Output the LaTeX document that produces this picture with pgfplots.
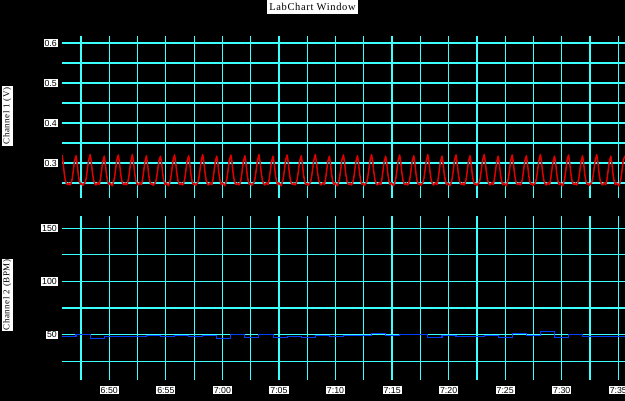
\documentclass[border=0pt]{standalone}
\usepackage{pgfplots}
\pgfplotsset{compat=1.18}
\usepackage{fontspec}
\setmainfont{Liberation Sans}
\newfontfamily\lcserif[LetterSpace=6]{Liberation Serif}
\definecolor{gridcyan}{RGB}{60,255,255}
\definecolor{sigred}{RGB}{225,0,0}
\definecolor{sigblue}{RGB}{0,64,255}
\pgfplotsset{
  lcbase/.style={
    scale only axis, width=563pt, xmin=405.82, xmax=455.59,
    axis line style={draw=none}, major tick length=0pt, minor tick length=0pt,
    grid=both,
    major grid style={gridcyan, line width=1.2pt},
    minor grid style={gridcyan, line width=1.2pt},
    xtick={410,415,420,425,430,435,440,445,450,455},
    minor xtick={407.5,412.5,417.5,422.5,427.5,432.5,437.5,442.5,447.5,452.5},
    /pgf/number format/assume math mode=true,
    tick label style={font=\fontsize{8.8}{9}\selectfont, fill=white, text=black, inner sep=1pt},
    yticklabel style={xshift=-4pt},
  }
}
\begin{document}
\begin{tikzpicture}
\fill[black] (0,0) rectangle (625pt,401pt);
\node[fill=white, text=black, font=\lcserif\fontsize{10.5}{12}\selectfont, inner xsep=2.5pt, minimum height=14pt] at (312.5pt,394pt) {LabChart Window};
\node[fill=white, text=black, rotate=90, font=\lcserif\fontsize{9}{10}\selectfont, inner sep=1.2pt] at (7.3pt,285pt) {Channel 1 (V)};
\node[fill=white, text=black, rotate=90, font=\lcserif\fontsize{9}{10}\selectfont, inner sep=1.2pt] at (7.3pt,106pt) {Channel 2 (BPM)};

\begin{axis}[lcbase, at={(62pt,203pt)}, anchor=south west, height=162pt,
  ymin=0.2125, ymax=0.6175,
  ytick={0.3,0.4,0.5,0.6}, minor ytick={0.25,0.35,0.45,0.55},
  yticklabel style={/pgf/number format/fixed, /pgf/number format/fixed zerofill, /pgf/number format/precision=1},
  xticklabels={}, xticklabel style={fill=none}]
\addplot[sigred, line width=1.5pt, line join=round] coordinates {
(405.82,0.320) (405.92,0.301) (406.02,0.274) (406.12,0.256) (406.22,0.248) (406.32,0.246) (406.42,0.250) (406.52,0.245) (406.62,0.249) (406.72,0.260) (406.82,0.281) (406.92,0.304)
(407.06,0.318) (407.16,0.298) (407.26,0.271) (407.36,0.254) (407.46,0.247) (407.56,0.249) (407.66,0.244) (407.76,0.248) (407.86,0.251) (407.96,0.262) (408.06,0.283) (408.16,0.305)
(408.31,0.321) (408.41,0.303) (408.51,0.276) (408.61,0.257) (408.71,0.249) (408.81,0.245) (408.91,0.248) (409.01,0.251) (409.11,0.246) (409.21,0.258) (409.31,0.279) (409.41,0.302)
(409.55,0.317) (409.65,0.299) (409.75,0.272) (409.85,0.255) (409.95,0.246) (410.05,0.250) (410.15,0.247) (410.25,0.243) (410.35,0.250) (410.45,0.261) (410.55,0.282) (410.65,0.306)
(410.80,0.320) (410.90,0.301) (411.00,0.274) (411.10,0.256) (411.20,0.248) (411.30,0.246) (411.40,0.250) (411.50,0.245) (411.60,0.249) (411.70,0.260) (411.80,0.281) (411.90,0.304)
(412.04,0.321) (412.14,0.303) (412.24,0.276) (412.34,0.257) (412.44,0.249) (412.54,0.245) (412.64,0.248) (412.74,0.251) (412.84,0.246) (412.94,0.258) (413.04,0.279) (413.14,0.302)
(413.28,0.318) (413.38,0.298) (413.48,0.271) (413.58,0.254) (413.68,0.247) (413.78,0.249) (413.88,0.244) (413.98,0.248) (414.08,0.251) (414.18,0.262) (414.28,0.283) (414.38,0.305)
(414.53,0.317) (414.63,0.299) (414.73,0.272) (414.83,0.255) (414.93,0.246) (415.03,0.250) (415.13,0.247) (415.23,0.243) (415.33,0.250) (415.43,0.261) (415.53,0.282) (415.63,0.306)
(415.77,0.320) (415.87,0.301) (415.97,0.274) (416.07,0.256) (416.17,0.248) (416.27,0.246) (416.37,0.250) (416.47,0.245) (416.57,0.249) (416.67,0.260) (416.77,0.281) (416.87,0.304)
(417.02,0.318) (417.12,0.298) (417.22,0.271) (417.32,0.254) (417.42,0.247) (417.52,0.249) (417.62,0.244) (417.72,0.248) (417.82,0.251) (417.92,0.262) (418.02,0.283) (418.12,0.305)
(418.26,0.321) (418.36,0.303) (418.46,0.276) (418.56,0.257) (418.66,0.249) (418.76,0.245) (418.86,0.248) (418.96,0.251) (419.06,0.246) (419.16,0.258) (419.26,0.279) (419.36,0.302)
(419.50,0.317) (419.60,0.299) (419.70,0.272) (419.80,0.255) (419.90,0.246) (420.00,0.250) (420.10,0.247) (420.20,0.243) (420.30,0.250) (420.40,0.261) (420.50,0.282) (420.60,0.306)
(420.75,0.320) (420.85,0.301) (420.95,0.274) (421.05,0.256) (421.15,0.248) (421.25,0.246) (421.35,0.250) (421.45,0.245) (421.55,0.249) (421.65,0.260) (421.75,0.281) (421.85,0.304)
(421.99,0.318) (422.09,0.298) (422.19,0.271) (422.29,0.254) (422.39,0.247) (422.49,0.249) (422.59,0.244) (422.69,0.248) (422.79,0.251) (422.89,0.262) (422.99,0.283) (423.09,0.305)
(423.23,0.321) (423.33,0.303) (423.43,0.276) (423.53,0.257) (423.63,0.249) (423.73,0.245) (423.83,0.248) (423.93,0.251) (424.03,0.246) (424.13,0.258) (424.23,0.279) (424.33,0.302)
(424.48,0.317) (424.58,0.299) (424.68,0.272) (424.78,0.255) (424.88,0.246) (424.98,0.250) (425.08,0.247) (425.18,0.243) (425.28,0.250) (425.38,0.261) (425.48,0.282) (425.58,0.306)
(425.72,0.320) (425.82,0.301) (425.92,0.274) (426.02,0.256) (426.12,0.248) (426.22,0.246) (426.32,0.250) (426.42,0.245) (426.52,0.249) (426.62,0.260) (426.72,0.281) (426.82,0.304)
(426.97,0.318) (427.07,0.298) (427.17,0.271) (427.27,0.254) (427.37,0.247) (427.47,0.249) (427.57,0.244) (427.67,0.248) (427.77,0.251) (427.87,0.262) (427.97,0.283) (428.07,0.305)
(428.21,0.321) (428.31,0.303) (428.41,0.276) (428.51,0.257) (428.61,0.249) (428.71,0.245) (428.81,0.248) (428.91,0.251) (429.01,0.246) (429.11,0.258) (429.21,0.279) (429.31,0.302)
(429.45,0.317) (429.55,0.299) (429.65,0.272) (429.75,0.255) (429.85,0.246) (429.95,0.250) (430.05,0.247) (430.15,0.243) (430.25,0.250) (430.35,0.261) (430.45,0.282) (430.55,0.306)
(430.70,0.320) (430.80,0.301) (430.90,0.274) (431.00,0.256) (431.10,0.248) (431.20,0.246) (431.30,0.250) (431.40,0.245) (431.50,0.249) (431.60,0.260) (431.70,0.281) (431.80,0.304)
(431.94,0.318) (432.04,0.298) (432.14,0.271) (432.24,0.254) (432.34,0.247) (432.44,0.249) (432.54,0.244) (432.64,0.248) (432.74,0.251) (432.84,0.262) (432.94,0.283) (433.04,0.305)
(433.19,0.321) (433.29,0.303) (433.39,0.276) (433.49,0.257) (433.59,0.249) (433.69,0.245) (433.79,0.248) (433.89,0.251) (433.99,0.246) (434.09,0.258) (434.19,0.279) (434.29,0.302)
(434.43,0.317) (434.53,0.299) (434.63,0.272) (434.73,0.255) (434.83,0.246) (434.93,0.250) (435.03,0.247) (435.13,0.243) (435.23,0.250) (435.33,0.261) (435.43,0.282) (435.53,0.306)
(435.67,0.320) (435.77,0.301) (435.87,0.274) (435.97,0.256) (436.07,0.248) (436.17,0.246) (436.27,0.250) (436.37,0.245) (436.47,0.249) (436.57,0.260) (436.67,0.281) (436.77,0.304)
(436.92,0.318) (437.02,0.298) (437.12,0.271) (437.22,0.254) (437.32,0.247) (437.42,0.249) (437.52,0.244) (437.62,0.248) (437.72,0.251) (437.82,0.262) (437.92,0.283) (438.02,0.305)
(438.16,0.321) (438.26,0.303) (438.36,0.276) (438.46,0.257) (438.56,0.249) (438.66,0.245) (438.76,0.248) (438.86,0.251) (438.96,0.246) (439.06,0.258) (439.16,0.279) (439.26,0.302)
(439.41,0.317) (439.51,0.299) (439.61,0.272) (439.71,0.255) (439.81,0.246) (439.91,0.250) (440.01,0.247) (440.11,0.243) (440.21,0.250) (440.31,0.261) (440.41,0.282) (440.51,0.306)
(440.65,0.320) (440.75,0.301) (440.85,0.274) (440.95,0.256) (441.05,0.248) (441.15,0.246) (441.25,0.250) (441.35,0.245) (441.45,0.249) (441.55,0.260) (441.65,0.281) (441.75,0.304)
(441.89,0.318) (441.99,0.298) (442.09,0.271) (442.19,0.254) (442.29,0.247) (442.39,0.249) (442.49,0.244) (442.59,0.248) (442.69,0.251) (442.79,0.262) (442.89,0.283) (442.99,0.305)
(443.14,0.321) (443.24,0.303) (443.34,0.276) (443.44,0.257) (443.54,0.249) (443.64,0.245) (443.74,0.248) (443.84,0.251) (443.94,0.246) (444.04,0.258) (444.14,0.279) (444.24,0.302)
(444.38,0.317) (444.48,0.299) (444.58,0.272) (444.68,0.255) (444.78,0.246) (444.88,0.250) (444.98,0.247) (445.08,0.243) (445.18,0.250) (445.28,0.261) (445.38,0.282) (445.48,0.306)
(445.62,0.320) (445.72,0.301) (445.82,0.274) (445.92,0.256) (446.02,0.248) (446.12,0.246) (446.22,0.250) (446.32,0.245) (446.42,0.249) (446.52,0.260) (446.62,0.281) (446.72,0.304)
(446.87,0.318) (446.97,0.298) (447.07,0.271) (447.17,0.254) (447.27,0.247) (447.37,0.249) (447.47,0.244) (447.57,0.248) (447.67,0.251) (447.77,0.262) (447.87,0.283) (447.97,0.305)
(448.11,0.321) (448.21,0.303) (448.31,0.276) (448.41,0.257) (448.51,0.249) (448.61,0.245) (448.71,0.248) (448.81,0.251) (448.91,0.246) (449.01,0.258) (449.11,0.279) (449.21,0.302)
(449.36,0.317) (449.46,0.299) (449.56,0.272) (449.66,0.255) (449.76,0.246) (449.86,0.250) (449.96,0.247) (450.06,0.243) (450.16,0.250) (450.26,0.261) (450.36,0.282) (450.46,0.306)
(450.60,0.320) (450.70,0.301) (450.80,0.274) (450.90,0.256) (451.00,0.248) (451.10,0.246) (451.20,0.250) (451.30,0.245) (451.40,0.249) (451.50,0.260) (451.60,0.281) (451.70,0.304)
(451.84,0.318) (451.94,0.298) (452.04,0.271) (452.14,0.254) (452.24,0.247) (452.34,0.249) (452.44,0.244) (452.54,0.248) (452.64,0.251) (452.74,0.262) (452.84,0.283) (452.94,0.305)
(453.09,0.321) (453.19,0.303) (453.29,0.276) (453.39,0.257) (453.49,0.249) (453.59,0.245) (453.69,0.248) (453.79,0.251) (453.89,0.246) (453.99,0.258) (454.09,0.279) (454.19,0.302)
(454.33,0.317) (454.43,0.299) (454.53,0.272) (454.63,0.255) (454.73,0.246) (454.83,0.250) (454.93,0.247) (455.03,0.243) (455.13,0.250) (455.23,0.261) (455.33,0.282) (455.43,0.306)
(455.58,0.318)
};
\end{axis}

\begin{axis}[lcbase, at={(62pt,21pt)}, anchor=south west, height=164pt,
  ymin=7.43, ymax=161.56,
  ytick={50,100,150}, minor ytick={25,75,125},
  xticklabels={6:50,6:55,7:00,7:05,7:10,7:15,7:20,7:25,7:30,7:35},
  xticklabel style={yshift=-6pt}]
\addplot[const plot, sigblue, line width=1.1pt] coordinates {
(405.82,48.4) (407.06,50.6) (408.31,46.3) (409.55,48.1) (413.28,49.0) (414.53,48.1)
(415.77,49.3) (417.02,48.4) (418.26,49.3) (419.50,46.3) (420.75,50.0) (421.99,47.2)
(423.23,50.0) (424.48,47.2) (425.72,48.1) (426.97,47.2) (428.21,49.0) (429.45,48.4)
(430.70,49.3) (433.19,51.5) (434.43,49.3) (435.67,50.0) (436.92,50.6) (438.16,47.2)
(439.41,49.0) (440.65,48.4) (443.14,49.0) (444.38,47.2) (445.62,51.5) (446.87,49.3)
(448.11,52.8) (449.36,47.2) (450.60,50.6) (451.84,48.4) (455.59,48.4)
};
\end{axis}
\pgfresetboundingbox
\useasboundingbox (0,0) rectangle (625pt,401pt);
\end{tikzpicture}
\end{document}
